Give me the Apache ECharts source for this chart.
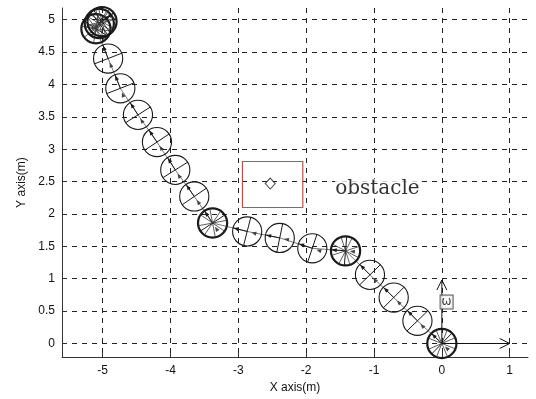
<!DOCTYPE html>
<html>
<head>
<meta charset="utf-8">
<script src="https://cdn.jsdelivr.net/npm/echarts@6/dist/echarts.min.js"></script>
<style>
  html, body { margin: 0; padding: 0; background: #fff; }
  #main { width: 536px; height: 399px; }
</style>
</head>
<body>
<div id="main"></div>
<script>
// robot path (m), from origin to (-5,5)
var pathX = [0, -0.36, -0.71, -1.06, -1.42, -1.91, -2.39, -2.87, -3.38, -3.65, -3.93, -4.20, -4.48, -4.74, -4.92, -5.10, -5.05, -5.01];
var pathY = [0, 0.35, 0.71, 1.06, 1.43, 1.47, 1.63, 1.73, 1.86, 2.27, 2.68, 3.11, 3.53, 3.94, 4.40, 4.86, 4.94, 4.97];
// 1 = drawn with heavy outline + spokes
var boldFlag = [1, 0, 0, 0, 1, 0, 0, 0, 1, 0, 0, 0, 0, 0, 0, 1, 1, 1];
var robotR = 0.215;

// obstacle box [xmin, ymin, xmax, ymax] and its centre
var obstacleBox = [-2.94, 2.10, -2.05, 2.81];
var obstacleCenter = [-2.53, 2.47];
var obstacleLabelPos = [-0.95, 2.39];

// frame arrows at origin [x0, y0, x1, y1]
var frameArrows = [[0, 0, 1, 0], [0, 0, 0, 0.98]];
var omegaPos = [0.07, 0.64];

var xTicks = [-5, -4, -3, -2, -1, 0, 1];
var yTicks = [0, 0.5, 1, 1.5, 2, 2.5, 3, 3.5, 4, 4.5, 5];

var robots = [];
var line = [];
for (var i = 0; i < pathX.length; i++) {
  var j = i < pathX.length - 1 ? i + 1 : i;
  var k = i < pathX.length - 1 ? i : i - 1;
  var th = Math.atan2(pathY[j] - pathY[k], pathX[j] - pathX[k]);
  robots.push([pathX[i], pathY[i], th, boldFlag[i]]);
  line.push([pathX[i], pathY[i]]);
}

function renderRobot(params, api) {
  var c = api.coord([api.value(0), api.value(1)]);
  var r = api.size([robotR, 0])[0];
  var th = api.value(2);
  var bold = api.value(3);
  var dx = Math.cos(th), dy = -Math.sin(th);
  var px = -dy, py = dx;
  var ink = '#1a1a1a';
  var kids = [];
  kids.push({ type: 'circle', shape: { cx: c[0], cy: c[1], r: r },
    style: { fill: 'none', stroke: ink, lineWidth: bold ? 2.2 : 1.1 } });
  // axle
  kids.push({ type: 'line', shape: { x1: c[0] + px * r, y1: c[1] + py * r, x2: c[0] - px * r, y2: c[1] - py * r },
    style: { stroke: ink, lineWidth: 1 } });
  // heading
  kids.push({ type: 'line', shape: { x1: c[0], y1: c[1], x2: c[0] + dx * r, y2: c[1] + dy * r },
    style: { stroke: ink, lineWidth: 1 } });
  if (bold) {
    for (var a = 0; a < 8; a++) {
      var ang = th + a * Math.PI / 4 + Math.PI / 8;
      kids.push({ type: 'line', shape: { x1: c[0], y1: c[1], x2: c[0] + Math.cos(ang) * r, y2: c[1] - Math.sin(ang) * r },
        style: { stroke: '#333', lineWidth: 0.8 } });
    }
  }
  // arrow head at front edge
  var tx = c[0] + dx * r * 0.95, ty = c[1] + dy * r * 0.95;
  var bx = tx - dx * 5, by = ty - dy * 5;
  kids.push({ type: 'polygon', shape: { points: [[tx, ty], [bx + px * 2, by + py * 2], [bx - px * 2, by - py * 2]] },
    style: { fill: ink } });
  // arrow head at back edge
  var sx = c[0] - dx * r * 0.3, sy = c[1] - dy * r * 0.3;
  var qx = sx - dx * 5, qy = sy - dy * 5;
  kids.push({ type: 'polygon', shape: { points: [[sx, sy], [qx + px * 2, qy + py * 2], [qx - px * 2, qy - py * 2]] },
    style: { fill: '#444' } });
  return { type: 'group', children: kids };
}

function renderBox(params, api) {
  var p0 = api.coord([api.value(0), api.value(3)]);
  var p1 = api.coord([api.value(2), api.value(1)]);
  return { type: 'rect', shape: { x: p0[0], y: p0[1], width: p1[0] - p0[0], height: p1[1] - p0[1] },
    style: { fill: 'none', stroke: '#c0504d', lineWidth: 1.2 } };
}

function renderArrow(params, api) {
  var a = api.coord([api.value(0), api.value(1)]);
  var b = api.coord([api.value(2), api.value(3)]);
  var len = Math.sqrt((b[0] - a[0]) * (b[0] - a[0]) + (b[1] - a[1]) * (b[1] - a[1]));
  var ux = (b[0] - a[0]) / len, uy = (b[1] - a[1]) / len;
  var h = 10, w = 5;
  return { type: 'group', children: [
    { type: 'line', shape: { x1: a[0], y1: a[1], x2: b[0], y2: b[1] }, style: { stroke: '#111', lineWidth: 1 } },
    { type: 'polyline', shape: { points: [
        [b[0] - ux * h - uy * w, b[1] - uy * h + ux * w], [b[0], b[1]], [b[0] - ux * h + uy * w, b[1] - uy * h - ux * w]] },
      style: { fill: 'none', stroke: '#111', lineWidth: 1 } }
  ] };
}

var chart = echarts.init(document.getElementById('main'));
var gridDash = { show: true, lineStyle: { color: '#222', type: [5, 5], width: 1 } };
var option = {
  animation: false,
  grid: { left: 62, right: 8, top: 8, bottom: 39 },
  xAxis: {
    type: 'value', min: -5.6, max: 1.27,
    name: 'X axis(m)', nameLocation: 'middle', nameGap: 24,
    nameTextStyle: { fontFamily: 'Liberation Sans', fontSize: 12, color: '#111' },
    axisLine: { show: true, onZero: false, lineStyle: { color: '#333' } },
    axisTick: { show: true, inside: true, length: 5, customValues: xTicks, lineStyle: { color: '#333' } },
    axisLabel: { customValues: xTicks, margin: 8, fontFamily: 'Liberation Sans', fontSize: 12, color: '#111' },
    splitLine: gridDash
  },
  yAxis: {
    type: 'value', min: -0.21, max: 5.18,
    name: 'Y axis(m)', nameLocation: 'middle', nameGap: 33, nameRotate: 90,
    nameTextStyle: { fontFamily: 'Liberation Sans', fontSize: 12, color: '#111' },
    axisLine: { show: true, onZero: false, lineStyle: { color: '#333' } },
    axisTick: { show: true, inside: true, length: 5, customValues: yTicks, lineStyle: { color: '#333' } },
    axisLabel: { customValues: yTicks, margin: 7, fontFamily: 'Liberation Sans', fontSize: 12, color: '#111' },
    splitLine: gridDash
  },
  series: [
    {
      type: 'line', data: line, symbol: 'none', silent: true,
      lineStyle: { color: '#7a7a7a', width: 1 }, z: 2
    },
    { type: 'custom', renderItem: renderRobot, data: robots, z: 3, silent: true },
    { type: 'custom', renderItem: renderBox, data: [obstacleBox], z: 3, silent: true },
    {
      type: 'scatter', data: [obstacleCenter], symbol: 'diamond', symbolSize: [10, 11],
      itemStyle: { color: '#fff', borderColor: '#111', borderWidth: 1 }, z: 4
    },
    {
      type: 'scatter', data: [obstacleLabelPos], symbolSize: 0, z: 4,
      label: { show: true, position: 'inside', formatter: 'obstacle',
        fontFamily: 'DejaVu Serif', fontSize: 20, color: '#000', backgroundColor: '#fff' }
    },
    { type: 'custom', renderItem: renderArrow, data: frameArrows, z: 4, silent: true },
    {
      type: 'scatter', data: [omegaPos], symbolSize: 0, z: 5,
      label: { show: true, position: 'inside', rotate: 0, formatter: 'ω', fontFamily: 'DejaVu Sans', fontSize: 12,
        color: '#111', backgroundColor: '#fff', borderColor: '#333', borderWidth: 1, padding: [1, 1, 0, 1] }
    }
  ]
};
chart.setOption(option);
</script>
</body>
</html>
